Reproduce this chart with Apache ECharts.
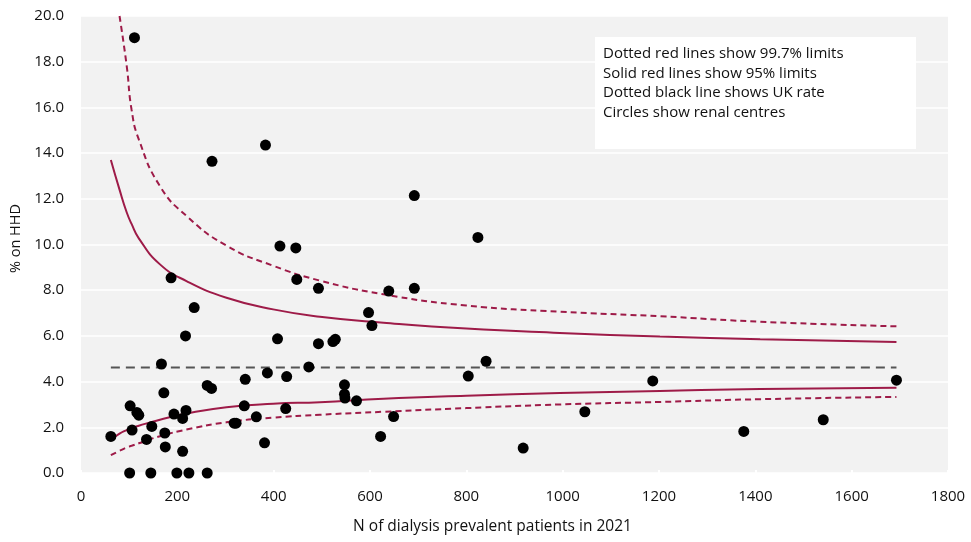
<!DOCTYPE html>
<html>
<head>
<meta charset="utf-8">
<script src="https://cdn.jsdelivr.net/npm/echarts@6/dist/echarts.min.js"></script>
<style>
html,body{margin:0;padding:0;background:#fff;}
#chart{width:971px;height:542px;}
</style>
</head>
<body>
<div id="chart"></div>
<script>
// Renal centres: N of dialysis prevalent patients and % on HHD
const centreN = [111, 272, 383, 62, 102, 116, 120, 106, 101, 145, 136, 147, 174, 175, 187, 167, 172, 193, 211, 218, 211, 199, 224, 262, 217, 235, 262, 271, 322, 318, 339, 341, 364, 381, 387, 408, 413, 446, 448, 427, 425, 473, 493, 493, 692, 824, 639, 692, 597, 604, 523, 528, 547, 547, 548, 572, 649, 622, 804, 841, 918, 1046, 1187, 1376, 1541, 1693];
const centreRate = [19.05, 13.64, 14.35, 1.60, 2.94, 2.65, 2.53, 1.88, 0, 0, 1.47, 2.04, 1.75, 1.14, 8.54, 4.77, 3.51, 2.58, 2.39, 2.74, 0.95, 0, 0, 0, 6.0, 7.24, 3.83, 3.70, 2.18, 2.18, 2.94, 4.10, 2.46, 1.32, 4.38, 5.87, 9.93, 9.85, 8.47, 4.22, 2.82, 4.64, 8.08, 5.66, 12.14, 10.31, 7.96, 8.08, 7.02, 6.45, 5.75, 5.85, 3.86, 3.45, 3.28, 3.16, 2.47, 1.60, 4.24, 4.89, 1.09, 2.68, 4.03, 1.82, 2.33, 4.06];

// Funnel limits read at these N values
const limitN     = [62, 80, 95, 105, 120, 164, 219, 302, 399, 496, 628, 800, 994, 1202, 1410, 1693];
const upper997   = [null, 20.0, 17.8, 15.9, 14.6, 12.55, 11.25, 9.95, 9.07, 8.42, 7.82, 7.33, 7.06, 6.86, 6.62, 6.42];
const upper95    = [13.7, 12.4, 11.4, 10.9, 10.27, 9.13, 8.40, 7.67, 7.16, 6.84, 6.58, 6.32, 6.13, 5.97, 5.85, 5.73];
const lower95    = [1.45, 1.72, 1.88, 1.97, 2.07, 2.33, 2.60, 2.88, 3.03, 3.10, 3.25, 3.38, 3.50, 3.59, 3.68, 3.73];
const lower997   = [0.78, 0.97, 1.12, 1.19, 1.30, 1.61, 1.90, 2.22, 2.42, 2.55, 2.68, 2.84, 3.00, 3.11, 3.23, 3.33];

const ukN = [62, 1693];
const ukRate = [4.62, 4.62];

const xTicks = [0, 200, 400, 600, 800, 1000, 1200, 1400, 1600, 1800];
const yTicks = [0, 2, 4, 6, 8, 10, 12, 14, 16, 18, 20];

const noteLines = [
  'Dotted red lines show 99.7% limits',
  'Solid red lines show 95% limits',
  'Dotted black line shows UK rate',
  'Circles show renal centres'
];

const RED = '#9e1b48';
const FONT = '"Open Sans", Lato, sans-serif';

function pairs(xs, ys) { return xs.map((x, i) => [x, ys[i]]); }

const chart = echarts.init(document.getElementById('chart'), null, {renderer: 'canvas'});

function limitSeries(name, ys, dashed) {
  return {
    name: name,
    type: 'line',
    data: pairs(limitN, ys),
    showSymbol: false,
    symbol: 'none',
    smooth: 0.5,
    connectNulls: false,
    clip: true,
    lineStyle: {color: RED, width: 2, type: dashed ? [6, 4] : 'solid'},
    z: 3,
    silent: true
  };
}

chart.setOption({
  animation: false,
  backgroundColor: '#ffffff',
  textStyle: {fontFamily: FONT},
  grid: {
    left: 81, right: 23, top: 16, bottom: 69,
    show: true, backgroundColor: '#f2f2f2', borderWidth: 0
  },
  xAxis: {
    type: 'value',
    min: xTicks[0], max: xTicks[xTicks.length - 1], interval: 200,
    name: 'N of dialysis prevalent patients in 2021',
    nameLocation: 'middle',
    nameGap: 46,
    nameTextStyle: {fontSize: 15.5, color: '#111', fontFamily: FONT, padding: [0, 44, 0, 0]},
    axisLine: {show: false},
    axisTick: {show: true, inside: true, length: 3, lineStyle: {color: '#ffffff', width: 2}},
    axisLabel: {fontSize: 15, color: '#111', margin: 16, fontFamily: FONT,
      formatter: v => String(v)},
    splitLine: {show: false}
  },
  yAxis: {
    type: 'value',
    min: yTicks[0], max: yTicks[yTicks.length - 1], interval: 2,
    name: '% on HHD',
    nameLocation: 'middle',
    nameGap: 58,
    nameRotate: 90,
    nameTextStyle: {fontSize: 14.5, color: '#111', fontFamily: FONT, padding: [0, 0, 0, 12]},
    axisLine: {show: false},
    axisTick: {show: false},
    axisLabel: {fontSize: 15, color: '#111', margin: 17, fontFamily: FONT,
      formatter: v => v.toFixed(1)},
    splitLine: {show: true, lineStyle: {color: '#ffffff', width: 1.5}}
  },
  graphic: [{
    type: 'group',
    left: 595, top: 37,
    z: 100,
    children: [
      {type: 'rect', z: 100, shape: {x: 0, y: 0, width: 321, height: 112}, style: {fill: '#ffffff'}},
      {type: 'text', z: 101, x: 8, y: 7, style: {
        text: noteLines.join('\n'), fill: '#111', font: '15px ' + FONT, lineHeight: 19.5
      }}
    ]
  }],
  series: [
    limitSeries('99.7% upper', upper997, true),
    limitSeries('95% upper', upper95, false),
    limitSeries('95% lower', lower95, false),
    limitSeries('99.7% lower', lower997, true),
    {
      name: 'UK rate',
      type: 'line',
      data: pairs(ukN, ukRate),
      showSymbol: false,
      symbol: 'none',
      lineStyle: {color: '#555555', width: 2, type: [9, 6]},
      z: 2,
      silent: true
    },
    {
      name: 'Renal centres',
      type: 'scatter',
      data: pairs(centreN, centreRate),
      symbol: 'circle',
      symbolSize: 11,
      itemStyle: {color: '#000000', opacity: 1},
      clip: false,
      z: 5
    }
  ]
});
</script>
</body>
</html>
